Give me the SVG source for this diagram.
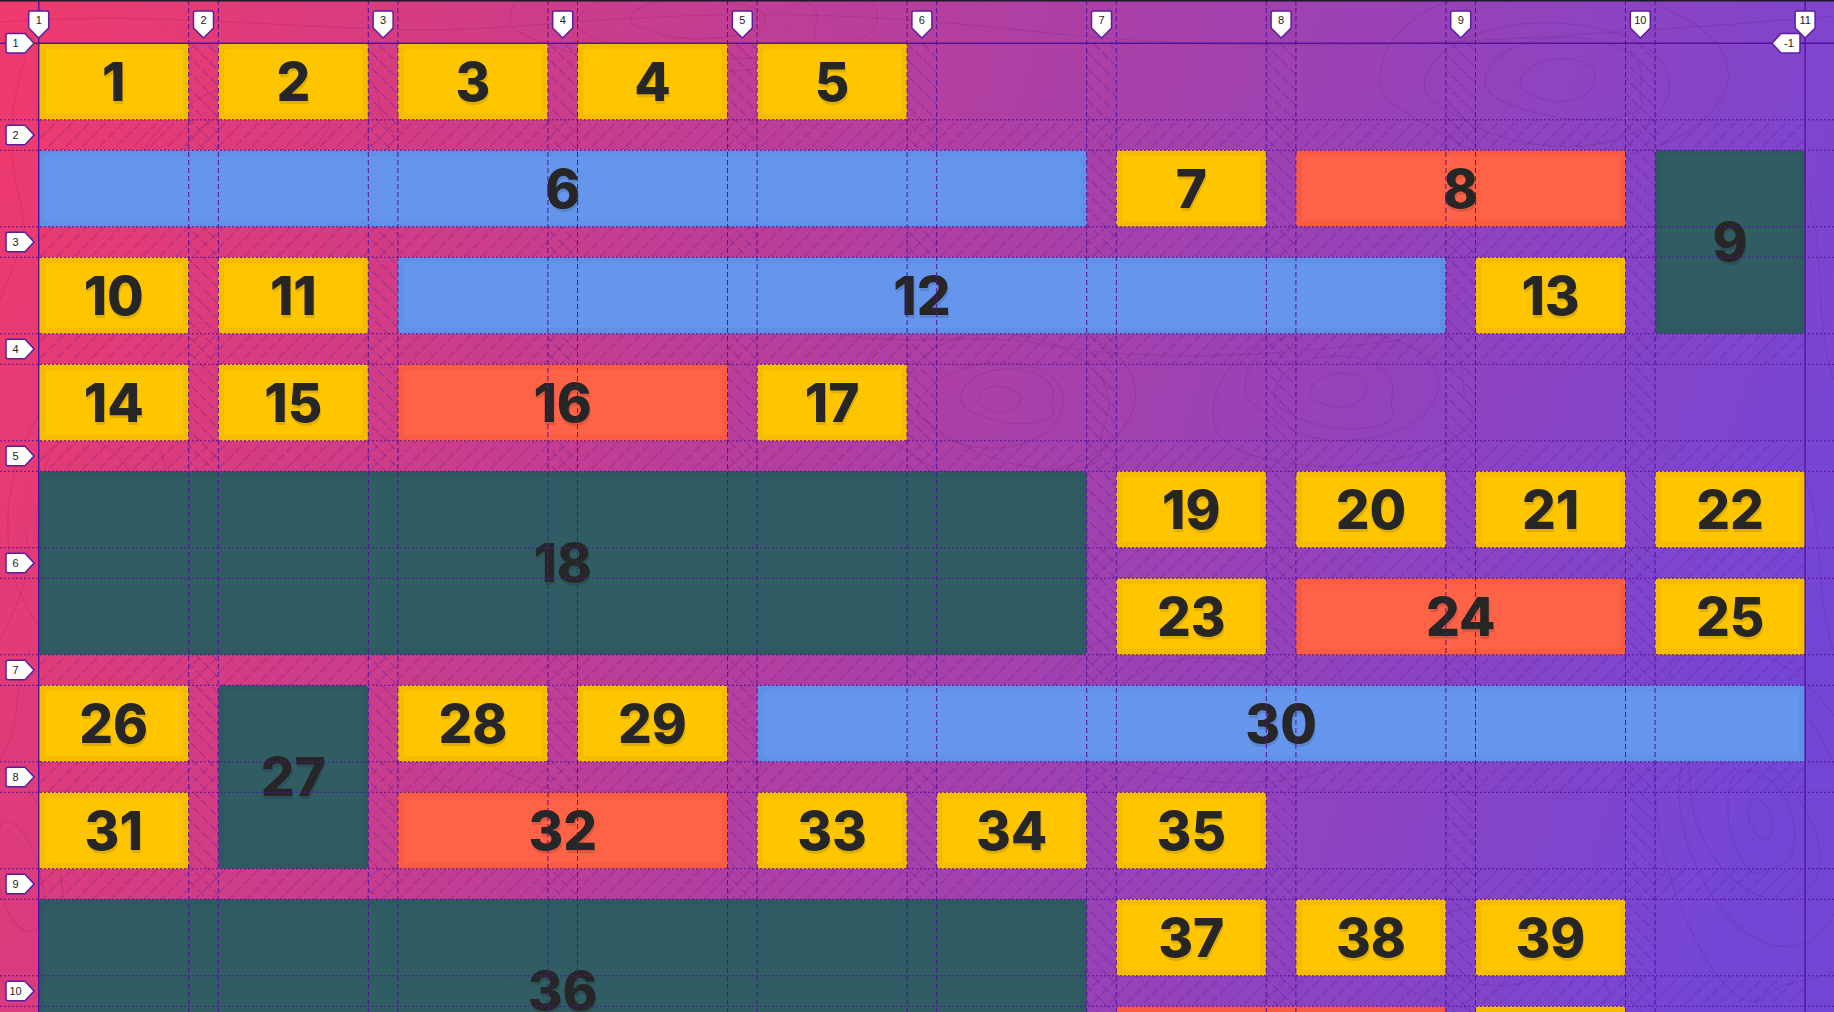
<svg xmlns="http://www.w3.org/2000/svg" xmlns:xlink="http://www.w3.org/1999/xlink" width="1834" height="1012" viewBox="0 0 1834 1012">
<defs>
<linearGradient id="bg" gradientUnits="userSpaceOnUse" x1="0" y1="0" x2="1834" y2="600">
<stop offset="0" stop-color="#F03A6C"/>
<stop offset="0.5" stop-color="#B03FA2"/>
<stop offset="1" stop-color="#7446D6"/>
</linearGradient>
<pattern id="hv" width="11" height="12" patternUnits="userSpaceOnUse" patternTransform="rotate(-45)">
<line x1="5.5" y1="0" x2="5.5" y2="12" stroke="#4A0E8C" stroke-opacity="0.32" stroke-width="1" stroke-dasharray="9 3"/>
</pattern>
<pattern id="hh" width="12" height="12" patternUnits="userSpaceOnUse" patternTransform="rotate(45)">
<line x1="6" y1="0" x2="6" y2="12" stroke="#4A0E8C" stroke-opacity="0.32" stroke-width="1" stroke-dasharray="9 3"/>
</pattern>
<filter id="ts" x="-20%" y="-20%" width="140%" height="150%">
<feDropShadow dx="1" dy="3" stdDeviation="0.4" flood-color="#000" flood-opacity="0.12"/>
</filter>
<path id="b1" d="M-1,0 C-1,-0.8 -0.3,-1.1 0.2,-0.9 C0.9,-0.7 1.1,-0.1 0.8,0.4 C0.5,0.9 -0.3,1 -0.6,0.6 C-0.9,0.3 -1,0.2 -1,0 Z" vector-effect="non-scaling-stroke"/>
<path id="b2" d="M-1,0.1 C-0.9,-0.6 -0.2,-1 0.4,-0.8 C1,-0.6 1,0.2 0.6,0.6 C0.2,1 -0.4,0.9 -0.7,0.6 C-1,0.4 -1,0.3 -1,0.1 Z" vector-effect="non-scaling-stroke"/>
<path id="b3" d="M-0.9,-0.2 C-0.7,-0.9 0.1,-1.1 0.6,-0.7 C1.1,-0.3 0.8,0.2 0.9,0.5 C1,0.9 0.2,1.05 -0.3,0.8 C-0.8,0.55 -1.05,0.3 -0.9,-0.2 Z" vector-effect="non-scaling-stroke"/>
<path id="cb" d="M-10,-25 q0,-2 2,-2 h16 q2,0 2,2 v15 l-10,10 l-10,-10 z"/>
<path id="rb" d="M-26,-9.75 h17 l9,9.75 l-9,9.75 h-17 q-2,0 -2,-2 v-15.5 q0,-2 2,-2 z"/>
</defs>
<style>
.topo{fill:none;stroke:#46004a;stroke-opacity:0.11;stroke-width:1.2}
.it rect{stroke-width:6;stroke-linejoin:round}
.Y rect{fill:#FFC600;stroke:#F6BD00}
.B rect{fill:#6596EC;stroke:#6191E6}
.O rect{fill:#FF6347;stroke:#F85D42}
.T rect{fill:#305C63;stroke:#2E5960}
.it text{font-family:Inter,"Liberation Sans",sans-serif;font-weight:800;font-size:53px;fill:#262626;text-anchor:middle;filter:url(#ts)}
.gs{stroke:#55139A;stroke-width:1.4;fill:none}
.gv{stroke:#55139A;stroke-width:1;stroke-dasharray:5 3;fill:none}
.gh{stroke:#55139A;stroke-width:1;stroke-dasharray:2 2;fill:none}
.badge path,.badge use{fill:#fff;stroke:#5A1E9E;stroke-width:1.5}
.badge text{font-family:"Liberation Sans",Arial,sans-serif;font-size:11px;fill:#222;text-anchor:middle}
</style>

<rect width="1834" height="1012" fill="url(#bg)"/>

<g id="topography" class="topo">
<use href="#b1" transform="translate(1000,400) scale(22,14)"/>
<use href="#b3" transform="translate(1008,396) scale(50,30)"/>
<use href="#b2" transform="translate(995,405) scale(78,50)"/>
<use href="#b3" transform="translate(1010,398) rotate(10) scale(110,70)"/>
<use href="#b1" transform="translate(1000,400) scale(145,92)"/>
<use href="#b2" transform="translate(1340,390) scale(30,20)"/>
<use href="#b3" transform="translate(1335,392) scale(64,40)"/>
<use href="#b1" transform="translate(1345,388) scale(100,62)"/>
<use href="#b3" transform="translate(1340,390) rotate(-12) scale(138,86)"/>
<use href="#b1" transform="translate(1760,820) rotate(70) scale(22,12)"/>
<use href="#b3" transform="translate(1760,820) rotate(70) scale(55,35)"/>
<use href="#b2" transform="translate(1755,825) rotate(60) scale(95,60)"/>
<use href="#b1" transform="translate(1760,820) rotate(75) scale(140,90)"/>
<use href="#b3" transform="translate(1765,815) rotate(70) scale(190,120)"/>
<use href="#b2" transform="translate(1560,80) scale(40,25)"/>
<use href="#b3" transform="translate(1565,78) scale(85,45)"/>
<use href="#b2" transform="translate(1555,84) rotate(6) scale(130,72)"/>
<use href="#b1" transform="translate(1560,80) scale(180,98)"/>
<use href="#b2" transform="translate(90,520) rotate(90) scale(40,30)"/>
<use href="#b3" transform="translate(90,520) rotate(80) scale(90,60)"/>
<use href="#b2" transform="translate(90,520) rotate(95) scale(150,95)"/>
<use href="#b1" transform="translate(700,20) scale(70,22)"/>
<use href="#b3" transform="translate(700,20) scale(130,42)"/>
<use href="#b1" transform="translate(700,20) scale(190,62)"/>
<use href="#b1" transform="translate(260,140) rotate(-20) scale(80,40)"/>
<use href="#b3" transform="translate(260,140) rotate(-20) scale(140,70)"/>
<use href="#b2" transform="translate(1200,700) scale(90,50)"/>
<use href="#b3" transform="translate(1200,700) scale(160,90)"/>
<use href="#b1" transform="translate(600,760) scale(110,40)"/>
<use href="#b3" transform="translate(600,760) scale(180,70)"/>
<use href="#b2" transform="translate(1500,960) scale(60,30)"/>
<use href="#b3" transform="translate(1500,960) scale(120,60)"/>
<use href="#b2" transform="translate(20,880) rotate(80) scale(60,25)"/>
<use href="#b3" transform="translate(20,880) rotate(80) scale(120,45)"/>
<path d="M0,22 C200,8 350,40 520,26 S820,8 1020,30 S1400,52 1834,16"/>
<path d="M0,300 C15,260 30,240 20,200 S5,120 25,60"/>
<path d="M0,640 C20,600 35,570 25,530"/>
<path d="M0,760 C25,720 10,690 30,650"/>
<path d="M1810,200 C1825,260 1815,330 1834,380"/>
<path d="M1806,480 C1826,540 1814,600 1834,650"/>
<path d="M820,330 C900,350 960,330 1050,345 S1250,360 1400,340"/>
</g>

<g id="hatching">
<g fill="url(#hv)">
<rect x="188.7" y="43.3" width="29.6" height="969"/>
<rect x="368.3" y="43.3" width="29.6" height="969"/>
<rect x="547.9" y="43.3" width="29.6" height="969"/>
<rect x="727.5" y="43.3" width="29.6" height="969"/>
<rect x="907.1" y="43.3" width="29.6" height="969"/>
<rect x="1086.7" y="43.3" width="29.6" height="969"/>
<rect x="1266.3" y="43.3" width="29.6" height="969"/>
<rect x="1445.9" y="43.3" width="29.6" height="969"/>
<rect x="1625.5" y="43.3" width="29.6" height="969"/>
</g>
<g fill="url(#hh)">
<rect x="38.7" y="119.8" width="1766.4" height="30.5"/>
<rect x="38.7" y="226.8" width="1766.4" height="30.5"/>
<rect x="38.7" y="333.8" width="1766.4" height="30.5"/>
<rect x="38.7" y="440.8" width="1766.4" height="30.5"/>
<rect x="38.7" y="547.8" width="1766.4" height="30.5"/>
<rect x="38.7" y="654.8" width="1766.4" height="30.5"/>
<rect x="38.7" y="761.8" width="1766.4" height="30.5"/>
<rect x="38.7" y="868.8" width="1766.4" height="30.5"/>
<rect x="38.7" y="975.8" width="1766.4" height="30.5"/>
</g>
</g>

<g id="items">
<g id="item-1" class="it Y"><rect x="41.7" y="46.3" width="144" height="70.5" rx="1"/><text x="113.7" y="100.6">1</text></g>
<g id="item-2" class="it Y"><rect x="221.3" y="46.3" width="144" height="70.5" rx="1"/><text x="293.3" y="100.6">2</text></g>
<g id="item-3" class="it Y"><rect x="400.9" y="46.3" width="144" height="70.5" rx="1"/><text x="472.9" y="100.6">3</text></g>
<g id="item-4" class="it Y"><rect x="580.5" y="46.3" width="144" height="70.5" rx="1"/><text x="652.5" y="100.6">4</text></g>
<g id="item-5" class="it Y"><rect x="760.1" y="46.3" width="144" height="70.5" rx="1"/><text x="832.1" y="100.6">5</text></g>
<g id="item-6" class="it B"><rect x="41.7" y="153.3" width="1042" height="70.5" rx="1"/><text x="562.7" y="207.6">6</text></g>
<g id="item-7" class="it Y"><rect x="1119.3" y="153.3" width="144" height="70.5" rx="1"/><text x="1191.3" y="207.6">7</text></g>
<g id="item-8" class="it O"><rect x="1298.9" y="153.3" width="323.6" height="70.5" rx="1"/><text x="1460.7" y="207.6">8</text></g>
<g id="item-9" class="it T"><rect x="1658.1" y="153.3" width="144" height="177.5" rx="1"/><text x="1730.1" y="261.1">9</text></g>
<g id="item-10" class="it Y"><rect x="41.7" y="260.3" width="144" height="70.5" rx="1"/><text x="113.7" y="314.6">10</text></g>
<g id="item-11" class="it Y"><rect x="221.3" y="260.3" width="144" height="70.5" rx="1"/><text x="293.3" y="314.6">11</text></g>
<g id="item-12" class="it B"><rect x="400.9" y="260.3" width="1042" height="70.5" rx="1"/><text x="921.9" y="314.6">12</text></g>
<g id="item-13" class="it Y"><rect x="1478.5" y="260.3" width="144" height="70.5" rx="1"/><text x="1550.5" y="314.6">13</text></g>
<g id="item-14" class="it Y"><rect x="41.7" y="367.3" width="144" height="70.5" rx="1"/><text x="113.7" y="421.6">14</text></g>
<g id="item-15" class="it Y"><rect x="221.3" y="367.3" width="144" height="70.5" rx="1"/><text x="293.3" y="421.6">15</text></g>
<g id="item-16" class="it O"><rect x="400.9" y="367.3" width="323.6" height="70.5" rx="1"/><text x="562.7" y="421.6">16</text></g>
<g id="item-17" class="it Y"><rect x="760.1" y="367.3" width="144" height="70.5" rx="1"/><text x="832.1" y="421.6">17</text></g>
<g id="item-18" class="it T"><rect x="41.7" y="474.3" width="1042" height="177.5" rx="1"/><text x="562.7" y="582.1">18</text></g>
<g id="item-19" class="it Y"><rect x="1119.3" y="474.3" width="144" height="70.5" rx="1"/><text x="1191.3" y="528.6">19</text></g>
<g id="item-20" class="it Y"><rect x="1298.9" y="474.3" width="144" height="70.5" rx="1"/><text x="1370.9" y="528.6">20</text></g>
<g id="item-21" class="it Y"><rect x="1478.5" y="474.3" width="144" height="70.5" rx="1"/><text x="1550.5" y="528.6">21</text></g>
<g id="item-22" class="it Y"><rect x="1658.1" y="474.3" width="144" height="70.5" rx="1"/><text x="1730.1" y="528.6">22</text></g>
<g id="item-23" class="it Y"><rect x="1119.3" y="581.3" width="144" height="70.5" rx="1"/><text x="1191.3" y="635.6">23</text></g>
<g id="item-24" class="it O"><rect x="1298.9" y="581.3" width="323.6" height="70.5" rx="1"/><text x="1460.7" y="635.6">24</text></g>
<g id="item-25" class="it Y"><rect x="1658.1" y="581.3" width="144" height="70.5" rx="1"/><text x="1730.1" y="635.6">25</text></g>
<g id="item-26" class="it Y"><rect x="41.7" y="688.3" width="144" height="70.5" rx="1"/><text x="113.7" y="742.6">26</text></g>
<g id="item-27" class="it T"><rect x="221.3" y="688.3" width="144" height="177.5" rx="1"/><text x="293.3" y="796.1">27</text></g>
<g id="item-28" class="it Y"><rect x="400.9" y="688.3" width="144" height="70.5" rx="1"/><text x="472.9" y="742.6">28</text></g>
<g id="item-29" class="it Y"><rect x="580.5" y="688.3" width="144" height="70.5" rx="1"/><text x="652.5" y="742.6">29</text></g>
<g id="item-30" class="it B"><rect x="760.1" y="688.3" width="1042" height="70.5" rx="1"/><text x="1281.1" y="742.6">30</text></g>
<g id="item-31" class="it Y"><rect x="41.7" y="795.3" width="144" height="70.5" rx="1"/><text x="113.7" y="849.6">31</text></g>
<g id="item-32" class="it O"><rect x="400.9" y="795.3" width="323.6" height="70.5" rx="1"/><text x="562.7" y="849.6">32</text></g>
<g id="item-33" class="it Y"><rect x="760.1" y="795.3" width="144" height="70.5" rx="1"/><text x="832.1" y="849.6">33</text></g>
<g id="item-34" class="it Y"><rect x="939.7" y="795.3" width="144" height="70.5" rx="1"/><text x="1011.7" y="849.6">34</text></g>
<g id="item-35" class="it Y"><rect x="1119.3" y="795.3" width="144" height="70.5" rx="1"/><text x="1191.3" y="849.6">35</text></g>
<g id="item-36" class="it T"><rect x="41.7" y="902.3" width="1042" height="177.5" rx="1"/><text x="562.7" y="1010.1">36</text></g>
<g id="item-37" class="it Y"><rect x="1119.3" y="902.3" width="144" height="70.5" rx="1"/><text x="1191.3" y="956.6">37</text></g>
<g id="item-38" class="it Y"><rect x="1298.9" y="902.3" width="144" height="70.5" rx="1"/><text x="1370.9" y="956.6">38</text></g>
<g id="item-39" class="it Y"><rect x="1478.5" y="902.3" width="144" height="70.5" rx="1"/><text x="1550.5" y="956.6">39</text></g>
<g id="item-40" class="it O"><rect x="1119.3" y="1009.3" width="323.6" height="70.5" rx="1"/></g>
<g id="item-41" class="it Y"><rect x="1478.5" y="1009.3" width="144" height="70.5" rx="1"/></g>
</g>

<g id="grid-lines">
<path class="gv" d="M188.7,0V1012M218.3,0V1012M368.3,0V1012M397.9,0V1012M547.9,0V1012M577.5,0V1012M727.5,0V1012M757.1,0V1012M907.1,0V1012M936.7,0V1012M1086.7,0V1012M1116.3,0V1012M1266.3,0V1012M1295.9,0V1012M1445.9,0V1012M1475.5,0V1012M1625.5,0V1012M1655.1,0V1012"/>
<path class="gh" d="M0,119.8H1834M0,150.3H1834M0,226.8H1834M0,257.3H1834M0,333.8H1834M0,364.3H1834M0,440.8H1834M0,471.3H1834M0,547.8H1834M0,578.3H1834M0,654.8H1834M0,685.3H1834M0,761.8H1834M0,792.3H1834M0,868.8H1834M0,899.3H1834M0,975.8H1834M0,1006.3H1834"/>
<path class="gs" d="M38.7,0V1012M1805.1,0V1012M0,43.3H1834"/>
</g>

<rect id="top-edge" x="0" y="0" width="1834" height="1.5" fill="#1f1a2a"/>

<g id="column-labels" class="badge">
<use href="#cb" transform="translate(38.7,38)"/><text x="38.7" y="23.5">1</text>
<use href="#cb" transform="translate(203.5,38)"/><text x="203.5" y="23.5">2</text>
<use href="#cb" transform="translate(383.1,38)"/><text x="383.1" y="23.5">3</text>
<use href="#cb" transform="translate(562.7,38)"/><text x="562.7" y="23.5">4</text>
<use href="#cb" transform="translate(742.3,38)"/><text x="742.3" y="23.5">5</text>
<use href="#cb" transform="translate(921.9,38)"/><text x="921.9" y="23.5">6</text>
<use href="#cb" transform="translate(1101.5,38)"/><text x="1101.5" y="23.5">7</text>
<use href="#cb" transform="translate(1281.1,38)"/><text x="1281.1" y="23.5">8</text>
<use href="#cb" transform="translate(1460.7,38)"/><text x="1460.7" y="23.5">9</text>
<use href="#cb" transform="translate(1640.3,38)"/><text x="1640.3" y="23.5">10</text>
<use href="#cb" transform="translate(1805.1,38)"/><text x="1805.1" y="23.5">11</text>
<path d="M1798,33.55 q2,0 2,2 v15.5 q0,2 -2,2 h-17 l-9,-9.75 l9,-9.75 z"/><text x="1789" y="47.3">-1</text>
</g>

<g id="row-labels" class="badge">
<use href="#rb" transform="translate(34,43.3)"/><text x="15.5" y="47.3">1</text>
<use href="#rb" transform="translate(34,135.05)"/><text x="15.5" y="139">2</text>
<use href="#rb" transform="translate(34,242.05)"/><text x="15.5" y="246">3</text>
<use href="#rb" transform="translate(34,349.05)"/><text x="15.5" y="353">4</text>
<use href="#rb" transform="translate(34,456.05)"/><text x="15.5" y="460">5</text>
<use href="#rb" transform="translate(34,563.05)"/><text x="15.5" y="567">6</text>
<use href="#rb" transform="translate(34,670.05)"/><text x="15.5" y="674">7</text>
<use href="#rb" transform="translate(34,777.05)"/><text x="15.5" y="781">8</text>
<use href="#rb" transform="translate(34,884.05)"/><text x="15.5" y="888">9</text>
<use href="#rb" transform="translate(34,991.05)"/><text x="15.5" y="995">10</text>
</g>
</svg>
